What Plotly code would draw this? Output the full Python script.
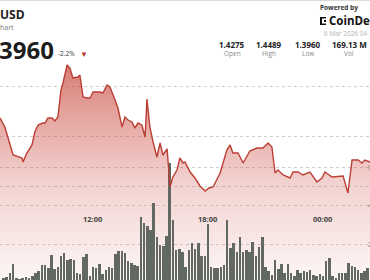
import plotly.graph_objects as go
import pandas as pd

# ---- data ----
price_times = [
    "2026-03-05 07:09", "2026-03-05 07:24", "2026-03-05 07:50", "2026-03-05 08:05", "2026-03-05 08:18",
    "2026-03-05 08:21", "2026-03-05 08:33", "2026-03-05 08:49", "2026-03-05 08:58", "2026-03-05 09:08",
    "2026-03-05 09:23", "2026-03-05 09:30", "2026-03-05 09:39", "2026-03-05 09:52", "2026-03-05 10:01",
    "2026-03-05 10:10", "2026-03-05 10:20", "2026-03-05 10:26", "2026-03-05 10:39", "2026-03-05 10:48",
    "2026-03-05 10:57", "2026-03-05 11:13", "2026-03-05 11:19", "2026-03-05 11:29", "2026-03-05 11:41",
    "2026-03-05 11:51", "2026-03-05 12:00", "2026-03-05 12:22", "2026-03-05 12:31", "2026-03-05 12:44",
    "2026-03-05 12:53", "2026-03-05 13:09", "2026-03-05 13:18", "2026-03-05 13:31", "2026-03-05 13:40",
    "2026-03-05 13:50", "2026-03-05 14:02", "2026-03-05 14:11", "2026-03-05 14:21", "2026-03-05 14:33",
    "2026-03-05 14:43", "2026-03-05 14:49", "2026-03-05 14:58", "2026-03-05 15:08", "2026-03-05 15:20",
    "2026-03-05 15:30", "2026-03-05 15:39", "2026-03-05 15:52", "2026-03-05 15:55", "2026-03-05 16:01",
    "2026-03-05 16:10", "2026-03-05 16:23", "2026-03-05 16:32", "2026-03-05 16:42", "2026-03-05 16:48",
    "2026-03-05 17:04", "2026-03-05 17:19", "2026-03-05 17:35", "2026-03-05 17:51", "2026-03-05 18:03",
    "2026-03-05 18:16", "2026-03-05 18:38", "2026-03-05 18:59", "2026-03-05 19:09", "2026-03-05 19:18",
    "2026-03-05 19:34", "2026-03-05 19:50", "2026-03-05 20:11", "2026-03-05 20:33", "2026-03-05 20:52",
    "2026-03-05 21:08", "2026-03-05 21:20", "2026-03-05 21:30", "2026-03-05 21:39", "2026-03-05 21:55",
    "2026-03-05 22:17", "2026-03-05 22:26", "2026-03-05 22:42", "2026-03-05 22:57", "2026-03-05 23:19",
    "2026-03-05 23:41", "2026-03-05 23:57", "2026-03-06 00:06", "2026-03-06 00:28", "2026-03-06 01:03",
    "2026-03-06 01:18", "2026-03-06 01:31", "2026-03-06 01:50", "2026-03-06 02:02", "2026-03-06 02:11",
    "2026-03-06 02:27",
]
prices = [
    1.4272, 1.4236, 1.4124, 1.4116, 1.4112, 1.4096, 1.4132, 1.4164, 1.4216, 1.4244,
    1.4252, 1.4252, 1.4272, 1.4272, 1.4260, 1.4276, 1.4384, 1.4412, 1.4484, 1.4472,
    1.4432, 1.4436, 1.4444, 1.4356, 1.4352, 1.4352, 1.4376, 1.4376, 1.4372, 1.4404,
    1.4396, 1.4344, 1.4312, 1.4236, 1.4276, 1.4264, 1.4256, 1.4232, 1.4252, 1.4244,
    1.4196, 1.4348, 1.4236, 1.4176, 1.4116, 1.4172, 1.4124, 1.4148, 1.4104, 1.3996,
    1.4036, 1.4064, 1.4112, 1.4092, 1.4096, 1.4056, 1.4032, 1.4000, 1.3980, 1.3992,
    1.3996, 1.4052, 1.4144, 1.4164, 1.4132, 1.4132, 1.4092, 1.4140, 1.4152, 1.4152,
    1.4172, 1.4156, 1.4052, 1.4064, 1.4044, 1.4032, 1.4056, 1.4056, 1.4044, 1.4056,
    1.4016, 1.4032, 1.4056, 1.4036, 1.4040, 1.3972, 1.4104, 1.4104, 1.4092, 1.4104,
    1.4096,
]

vol_start = "2026-03-05 07:20"   # 10-minute volume bars
volumes_m = [
    2.5, 3.3, 5.4, 9.9, 2.4, 2.1, 2.4, 2.9, 2.4, 3.6, 5.0,
    6.4, 9.4, 9.4, 7.6, 14.5, 7.3, 8.1, 14.0, 15.4, 11.9,
    12.3, 11.8, 5.4, 4.7, 13.7, 14.9, 3.6, 8.5, 7.6, 9.7,
    4.7, 6.8, 8.5, 7.6, 15.1, 16.8, 16.6, 15.4, 11.6, 10.2,
    9.4, 8.8, 34.4, 31.0, 29.6, 27.5, 41.4, 24.1, 19.7, 19.2,
    24.4, 62.3, 32.7, 17.1, 17.5, 16.3, 8.5, 17.1, 20.9, 17.5,
    20.9, 14.0, 14.0, 30.5, 8.5, 7.6, 7.6, 8.1, 9.4, 32.7,
    18.0, 20.9, 16.3, 24.1, 16.3, 17.1, 16.3, 21.5, 14.0, 18.9,
    24.1, 8.5, 6.4, 4.2, 11.9, 7.1, 9.7, 5.0, 9.7, 5.0,
    3.6, 6.8, 5.4, 6.4, 5.9, 6.8, 4.2, 3.6, 4.7, 3.6,
    11.6, 12.8, 3.6, 2.4, 5.4, 5.4, 5.4, 10.2, 8.8, 8.5,
    6.8, 5.4, 6.4, 7.6,
]

time_tick_vals = ["2026-03-05 12:00", "2026-03-05 18:00", "2026-03-06 00:00"]
time_tick_text = ["12:00", "18:00", "00:00"]
price_grid = [1.40, 1.42, 1.44]
vol_grid = [20, 40, 60]
vol_grid_text = ["20M", "40M", "60M"]

stat_values = ["1.4275", "1.4489", "1.3960", "169.13 M"]
stat_labels = ["Open", "High", "Low", "Vol"]

vol_times = pd.date_range(vol_start, periods=len(volumes_m), freq="10min")

X_RANGE = ["2026-03-05 07:08:54", "2026-03-06 02:27:06"]
Y_RANGE = [1.3624, 1.4744]
Y2_RANGE = [1.558, 147.0]

FONT = "Open Sans"
LINE = "rgb(186,62,52)"

fig = go.Figure()
fig.add_trace(go.Scatter(
    x=price_times, y=prices, mode="lines", line=dict(width=0, color=LINE),
    fill="tozeroy",
    fillgradient=dict(type="vertical", start=Y_RANGE[0], stop=1.4488,
                      colorscale=[[0, "rgba(205,80,70,0.05)"], [0.44, "rgba(205,80,70,0.25)"],
                                  [0.74, "rgba(205,80,70,0.5)"], [1, "rgba(200,72,62,0.72)"]]),
    hoverinfo="skip", yaxis="y", showlegend=False))
fig.add_trace(go.Bar(
    x=vol_times, y=volumes_m, width=0.78 * 600000, marker=dict(color="rgb(98,104,98)", line=dict(width=0)),
    yaxis="y2", showlegend=False))
fig.add_trace(go.Scatter(
    x=price_times, y=prices, mode="lines", line=dict(width=1.4, color=LINE),
    yaxis="y3", showlegend=False))

fig.update_layout(
    width=370, height=280, margin=dict(l=0, r=0, t=0, b=0),
    paper_bgcolor="white", plot_bgcolor="white", bargap=0,
    xaxis=dict(range=X_RANGE, showticklabels=False, showgrid=False, zeroline=False, showline=False),
    yaxis=dict(range=Y_RANGE, tickvals=price_grid, showticklabels=False, showgrid=True,
               gridcolor="#cfcfcf", griddash="dot", gridwidth=1, zeroline=False),
    yaxis2=dict(range=Y2_RANGE, overlaying="y", tickvals=vol_grid, showticklabels=False, showgrid=True,
                gridcolor="#cfcfcf", griddash="dot", gridwidth=1, zeroline=False),
    yaxis3=dict(range=Y_RANGE, overlaying="y", showticklabels=False, showgrid=False, zeroline=False),
)

ann = []
def txt(x, y, text, size, color="#1d1d1d", anchor="left", bold=False):
    ann.append(dict(x=x / 370, y=1 - y / 280, xref="paper", yref="paper", text=f"<b>{text}</b>" if bold else text,
                    showarrow=False, xanchor=anchor, yanchor="middle", borderpad=0,
                    font=dict(family=FONT, size=size, color=color)))

txt(-1, 14.5, "USD", 12, bold=True)
txt(-1, 28, "hart", 7, color="#777")
txt(-2, 49, "3960", 24, bold=True)
txt(57, 54, "-2.2%", 6.5, color="#333")
txt(79, 54, "▼", 8, color="#c0392b")
txt(319, 7, "Powered by", 6.5, color="#333", bold=True)
txt(328, 21, "CoinDesk", 11.5, color="#111", bold=True)
txt(323, 33, "6 Mar 2026 04", 6.5, color="#b5b5b5")

centers = [232, 269, 308, 349]
for cx, v, l in zip(centers, stat_values, stat_labels):
    txt(cx, 45, v, 8, color="#222", anchor="center", bold=True)
    txt(cx, 54, l, 6.5, color="#8a8a8a", anchor="center")

for tv, tt in zip(time_tick_vals, time_tick_text):
    ann.append(dict(x=tv, y=1 - 219 / 280, xref="x", yref="paper", text=f"<b>{tt}</b>", showarrow=False,
                    xanchor="center", yanchor="middle", font=dict(family=FONT, size=7.5, color="#444")))
for gv, gt in zip(vol_grid, vol_grid_text):
    ann.append(dict(x=366 / 370, y=gv, xref="paper", yref="y2", text=gt, showarrow=False,
                    xanchor="left", yanchor="middle", font=dict(family=FONT, size=7, color="#888")))

fig.update_layout(annotations=ann)

shapes = [
    dict(type="line", xref="paper", yref="paper", x0=0, x1=1, y0=1 - 0.5 / 280, y1=1 - 0.5 / 280,
         line=dict(color="#dcdcdc", width=1)),
    # CoinDesk logo glyph
    dict(type="rect", xref="paper", yref="paper", x0=320 / 370, x1=322 / 370, y0=1 - 25 / 280, y1=1 - 17 / 280,
         fillcolor="#111", line=dict(width=0)),
    dict(type="rect", xref="paper", yref="paper", x0=320 / 370, x1=326 / 370, y0=1 - 18.5 / 280, y1=1 - 17 / 280,
         fillcolor="#111", line=dict(width=0)),
    dict(type="rect", xref="paper", yref="paper", x0=320 / 370, x1=326 / 370, y0=1 - 25 / 280, y1=1 - 23.5 / 280,
         fillcolor="#111", line=dict(width=0)),
    dict(type="rect", xref="paper", yref="paper", x0=324 / 370, x1=326 / 370, y0=1 - 22 / 280, y1=1 - 20 / 280,
         fillcolor="#111", line=dict(width=0)),
]
fig.update_layout(shapes=shapes)

fig.write_html("out.html")
